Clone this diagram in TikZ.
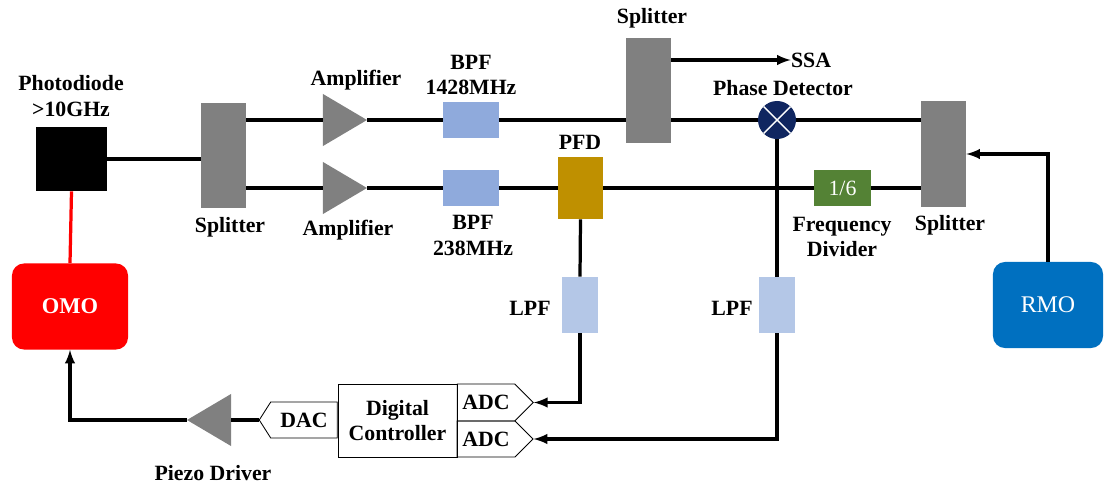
\documentclass[tikz,border=0pt]{standalone}
\usepackage{fontspec}
\setmainfont{Liberation Serif}
\usetikzlibrary{shapes.geometric, shapes.symbols, positioning}

\definecolor{splgray}{RGB}{128,128,128}
\definecolor{bpfblue}{RGB}{143,170,220}
\definecolor{lpfblue}{RGB}{180,199,231}
\definecolor{pfdgold}{RGB}{191,144,0}
\definecolor{divgreen}{RGB}{84,130,53}
\definecolor{phdnavy}{RGB}{16,38,96}
\definecolor{rmoblue}{RGB}{0,112,192}

\begin{document}
\begin{tikzpicture}[x=0.025cm, y=-0.025cm, >=latex,
    font=\fontsize{15.5}{18}\selectfont,
    lbl/.style={font=\fontsize{15.5}{18}\selectfont\bfseries, align=center, inner sep=0pt},
    box/.style={rectangle, inner sep=0pt},
    splitter/.style={box, fill=splgray, minimum width=1.125cm, minimum height=2.625cm},
    amp/.style={box, minimum width=1.1cm, minimum height=1.3cm,
      path picture={\fill[splgray] (path picture bounding box.north west) -- (path picture bounding box.east)
        -- (path picture bounding box.south west) -- cycle;}},
    ampleft/.style={box, minimum width=1.1cm, minimum height=1.3cm,
      path picture={\fill[splgray] (path picture bounding box.north east) -- (path picture bounding box.west)
        -- (path picture bounding box.south east) -- cycle;}},
    bpf/.style={box, fill=bpfblue, minimum width=1.4cm, minimum height=0.9cm},
    lpf/.style={box, fill=lpfblue, minimum width=0.9cm, minimum height=1.4cm},
    conv/.style={signal, draw, line width=0.6pt, inner sep=0pt, minimum height=0.9cm, font=\fontsize{15.5}{18}\selectfont\bfseries},
    osc/.style={box, rounded corners=0.3cm, text=white, minimum width=2.8cm, minimum height=2.15cm},
    wire/.style={line width=2.3pt}]
  \useasboundingbox (0,0) rectangle (1105,487);

  % optical part
  \node[box, fill=black, minimum width=1.775cm, minimum height=1.6cm] (pdd) at (71.5,159) {};
  \node[lbl] (pddlbl) at (71,96) {Photodiode\\>10GHz};
  \node[osc, fill=red, minimum width=2.9cm, font=\fontsize{16}{18}\selectfont\bfseries] (omo) at (70,306.5) {OMO};

  % RF chain
  \node[splitter] (spl1) at (223.5,155.5) {};
  \node[lbl] (spl1lbl) at (230,227) {Splitter};
  \node[amp] (amp1) at (345,120) {};
  \node[amp] (amp2) at (345,188) {};
  \node[lbl] (amp1lbl) at (356,80) {Amplifier};
  \node[lbl] (amp2lbl) at (348,230) {Amplifier};
  \node[bpf] (bpf1) at (471,120) {};
  \node[bpf] (bpf2) at (471,188) {};
  \node[lbl] (bpf1lbl) at (471,75) {BPF\\1428MHz};
  \node[lbl] (bpf2lbl) at (473,235.5) {BPF\\238MHz};
  \node[box, fill=pfdgold, minimum width=1.125cm, minimum height=1.55cm] (pfd) at (580.5,188) {};
  \node[lbl] (pfdlbl) at (580,142) {PFD};
  \node[splitter] (spl2) at (648.5,90.5) {};
  \node[lbl] (spl2lbl) at (652,18) {Splitter};
  \node[lbl] (ssa) at (811,60) {SSA};
  \node[circle, fill=phdnavy, minimum size=0.95cm, inner sep=0pt,
        path picture={\draw[white, line width=1pt]
          (path picture bounding box.north west) -- (path picture bounding box.south east)
          (path picture bounding box.south west) -- (path picture bounding box.north east);}] (phd) at (777,120) {};
  \node[lbl] (phdlbl) at (783,88) {Phase Detector};
  \node[box, fill=divgreen, text=white, minimum width=1.425cm, minimum height=0.9cm] (div) at (842.5,188) {1/6};
  \node[lbl] (divlbl) at (842,237) {Frequency\\Divider};
  \node[splitter] (spl3) at (943.5,154) {};
  \node[lbl] (spl3lbl) at (950,225) {Splitter};
  \node[osc, fill=rmoblue, minimum width=2.75cm, font=\fontsize{17}{18}\selectfont] (rmo) at (1048,305) {RMO};

  % loop filters and controller
  \node[lpf] (lpf1) at (580,305) {};
  \node[lpf] (lpf2) at (777,305) {};
  \node[lbl] (lpf1lbl) at (530,308) {LPF};
  \node[lbl] (lpf2lbl) at (732,308) {LPF};
  \node[draw, line width=0.6pt, minimum width=2.975cm, minimum height=1.825cm, lbl] (ctrl) at (397.5,420.5) {Digital\\Controller};
  \node[conv, signal to=east, minimum width=1.9cm, minimum height=0.925cm] (adc1) at (486,402.5) {ADC};
  \node[conv, signal to=east, minimum width=1.9cm] (adc2) at (486,439) {ADC};
  \node[conv, signal to=west, signal pointer angle=115, minimum width=1.95cm] (dac) at (304,420) {DAC};
  \node[ampleft] (drv) at (209,420) {};
  \node[lbl] (drvlbl) at (213,473) {Piezo Driver};

  % connections
  \draw[wire, red] (pdd.south) -- (omo.north);
  \draw[wire] (pdd.east) -- (pdd.east -| spl1.west);
  \draw[wire] (spl1.east |- amp1) -- (amp1.west);
  \draw[wire] (amp1.east) -- (bpf1.west);
  \draw[wire] (bpf1.east) -- (spl2.west |- bpf1);
  \draw[wire] (spl2.east |- phd) -- (phd.west);
  \draw[wire] (phd.east) -- (spl3.west |- phd);
  \draw[wire, ->] (spl2.east |- ssa) -- (ssa.west);
  \draw[wire] (spl1.east |- amp2) -- (amp2.west);
  \draw[wire] (amp2.east) -- (bpf2.west);
  \draw[wire] (bpf2.east) -- (pfd.west);
  \draw[wire] (pfd.east) -- (div.west);
  \draw[wire] (div.east) -- (spl3.west |- div);
  \draw[wire, ->] (rmo.north) |- (spl3.east);
  \draw[wire] (pfd.south) -- (lpf1.north);
  \draw[wire] (phd.south) -- (lpf2.north);
  \draw[wire, ->] (lpf1.south) |- (adc1.east);
  \draw[wire, ->] (lpf2.south) |- (adc2.east);
  \draw[wire] (dac.west) -- (drv.east);
  \draw[wire, ->] (drv.west) -| (omo.south);
\end{tikzpicture}
\end{document}
